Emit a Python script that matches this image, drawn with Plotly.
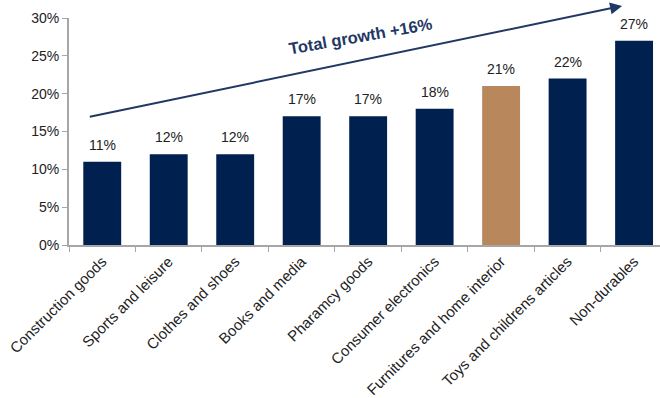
import plotly.graph_objects as go

categories = [
    "Construction goods", "Sports and leisure", "Clothes and shoes",
    "Books and media", "Pharamcy goods", "Consumer electronics",
    "Furnitures and home interior", "Toys and childrens articles", "Non-durables",
]
growth = [0.11, 0.12, 0.12, 0.17, 0.17, 0.18, 0.21, 0.22, 0.27]
highlight = "Furnitures and home interior"
y_ticks = [0, 0.05, 0.10, 0.15, 0.20, 0.25, 0.30]

NAVY = "#002050"
TAN = "#B9875C"
FONT = "Liberation Sans, Arial"
colors = [TAN if c == highlight else NAVY for c in categories]

fig = go.Figure(go.Bar(
    x=categories,
    y=growth,
    marker=dict(color=colors, line=dict(width=0)),
    width=0.57,
    cliponaxis=False,
))

# Value labels floating above each bar
for cat, val in zip(categories, growth):
    fig.add_annotation(
        x=cat, y=val, xref="x", yref="y",
        text=f"{val:.0%}", showarrow=False,
        yanchor="middle", yshift=17,
        font=dict(family=FONT, size=14, color="#222222"),
    )

fig.update_layout(
    width=660, height=398,
    margin=dict(l=69, r=0, t=18, b=153),
    plot_bgcolor="white", paper_bgcolor="white",
    font=dict(family=FONT, size=14, color="#222222"),
    showlegend=False,
    xaxis=dict(
        range=[-0.5, 8.39],
        tickangle=-45,
        showline=True, linecolor="#A6A6A6", linewidth=2,
        ticks="outside", tickcolor="#A6A6A6", ticklen=5, tickwidth=1,
        tickson="boundaries",
        showgrid=False,
        tickfont=dict(family=FONT, size=15, color="#222222"),
    ),
    yaxis=dict(
        range=[0, 0.30],
        tickvals=y_ticks,
        tickformat=".0%",
        showline=True, linecolor="#A6A6A6", linewidth=2,
        ticks="outside", tickcolor="#A6A6A6", ticklen=5, tickwidth=1,
        showgrid=False, zeroline=False,
        tickfont=dict(family=FONT, size=14, color="#222222"),
    ),
)

# Trend arrow spanning the categories
fig.add_annotation(
    x=7.82, y=0.316, xref="x", yref="y",
    ax=-0.21, ay=0.169, axref="x", ayref="y",
    showarrow=True, arrowhead=2, arrowsize=1.2, arrowwidth=2,
    arrowcolor="#1F3864", text="",
)
fig.add_annotation(
    x=3.88, y=0.276, xref="x", yref="y",
    text="<b>Total growth +16%</b>", showarrow=False,
    textangle=-10,
    font=dict(family=FONT, size=16.5, color="#1F3864"),
)

fig.write_html("out.html")
